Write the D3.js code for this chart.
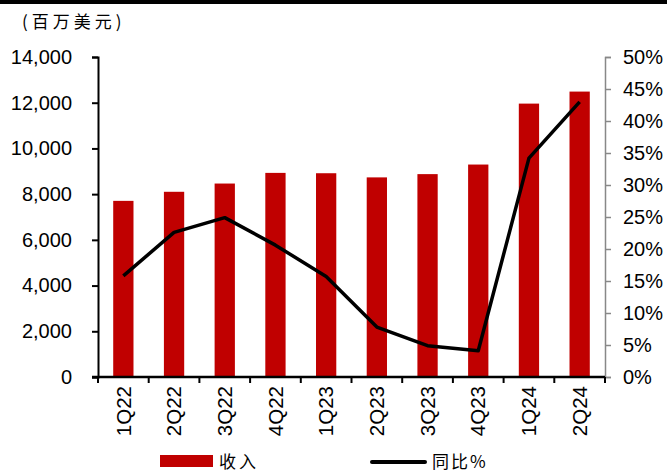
<!DOCTYPE html>
<html>
<head>
<meta charset="utf-8">
<script src="https://cdn.jsdelivr.net/npm/d3@7"></script>
<style>
  html, body { margin: 0; padding: 0; background: #fff; }
  svg { display: block; }
  text { font-family: Arial, "Liberation Sans", sans-serif; fill: #000; }
  .cjk { font-family: "Noto Sans CJK SC", sans-serif; }
</style>
</head>
<body>
<svg id="chart" width="667" height="475"></svg>
<script>
// Quarterly revenue (USD millions) and year-over-year growth (%)
const quarters = ["1Q22", "2Q22", "3Q22", "4Q22", "1Q23", "2Q23", "3Q23", "4Q23", "1Q24", "2Q24"];
const revenue = [7706, 8103, 8464, 8930, 8915, 8733, 8876, 9295, 11961, 12487];
const yoyPct = [15.8, 22.6, 24.9, 20.6, 15.7, 7.8, 4.9, 4.1, 34.2, 43.0];
const leftTicks = [0, 2000, 4000, 6000, 8000, 10000, 12000, 14000];
const rightTicks = [0, 5, 10, 15, 20, 25, 30, 35, 40, 45, 50];

const W = 667, H = 475;
const plot = { left: 98, right: 605, top: 57, bottom: 377 };
const RED = "#C00000";

const svg = d3.select("#chart");

// top rule
svg.append("rect").attr("x", 0).attr("y", 0).attr("width", W).attr("height", 4).attr("fill", "#000");

// unit label
svg.append("text").attr("class", "cjk")
  .attr("x", 22).attr("y", 28)
  .attr("font-size", 17).attr("letter-spacing", 4)
  .text("(百万美元)");

const x = d3.scaleBand().domain(quarters)
  .range([plot.left, plot.right]).paddingInner(0.6).paddingOuter(0.3);
const xEdge = d3.scaleBand().domain(quarters).range([plot.left, plot.right]).padding(0);
const yL = d3.scaleLinear().domain([0, 14000]).range([plot.bottom, plot.top]);
const yR = d3.scaleLinear().domain([0, 50]).range([plot.bottom, plot.top]);

// bars
svg.append("g").selectAll("rect").data(quarters).join("rect")
  .attr("x", d => x(d))
  .attr("width", x.bandwidth())
  .attr("y", (d, i) => yL(revenue[i]))
  .attr("height", (d, i) => yL(0) - yL(revenue[i]))
  .attr("fill", RED);

// left axis
const gL = svg.append("g").attr("transform", `translate(${plot.left},0)`)
  .call(d3.axisLeft(yL).tickValues(leftTicks).tickSize(6).tickPadding(20)
    .tickFormat(d3.format(",")));
gL.select(".domain").attr("stroke", "#000").attr("stroke-width", 2);
gL.selectAll(".tick line").attr("stroke", "#000").attr("stroke-width", 2);
gL.selectAll(".tick text").attr("font-size", 20).attr("font-family", "Arial, 'Liberation Sans', sans-serif");

// right axis
const gR = svg.append("g").attr("transform", `translate(${plot.right},0)`)
  .call(d3.axisRight(yR).tickValues(rightTicks).tickSize(6).tickPadding(12)
    .tickFormat(d => d + "%"));
gR.select(".domain").attr("stroke", "#888").attr("stroke-width", 1.5);
gR.selectAll(".tick line").attr("stroke", "#888").attr("stroke-width", 1.5);
gR.selectAll(".tick text").attr("font-size", 20).attr("font-family", "Arial, 'Liberation Sans', sans-serif");

// x axis baseline with ticks at category boundaries
const gX = svg.append("g");
gX.append("line")
  .attr("x1", plot.left - 6).attr("x2", plot.right)
  .attr("y1", plot.bottom).attr("y2", plot.bottom)
  .attr("stroke", "#000").attr("stroke-width", 2.5);
const edges = quarters.map(q => xEdge(q)).concat([xEdge(quarters[quarters.length - 1]) + xEdge.bandwidth()]);
gX.selectAll("line.edge").data(edges).join("line").attr("class", "edge")
  .attr("x1", d => d).attr("x2", d => d)
  .attr("y1", plot.bottom).attr("y2", plot.bottom + 6)
  .attr("stroke", "#000").attr("stroke-width", 2);
gX.selectAll("text").data(quarters).join("text")
  .attr("transform", d => `translate(${x(d) + x.bandwidth() / 2},${plot.bottom + 9}) rotate(-90)`)
  .attr("text-anchor", "end").attr("dy", "0.35em")
  .attr("font-size", 20.5)
  .text(d => d);

// YoY line
const line = d3.line()
  .x((d, i) => x(quarters[i]) + x.bandwidth() / 2)
  .y(d => yR(d));
svg.append("path").datum(yoyPct)
  .attr("d", line)
  .attr("fill", "none").attr("stroke", "#000").attr("stroke-width", 3.5)
  .attr("stroke-linejoin", "round");

// legend
const lg = svg.append("g");
lg.append("rect").attr("x", 160).attr("y", 455).attr("width", 53).attr("height", 12).attr("fill", RED);
lg.append("text").attr("class", "cjk").attr("x", 219).attr("y", 468)
  .attr("font-size", 17).attr("letter-spacing", 3).text("收入");
lg.append("line").attr("x1", 372).attr("x2", 425).attr("y1", 462).attr("y2", 462)
  .attr("stroke", "#000").attr("stroke-width", 4).attr("stroke-linecap", "round");
lg.append("text").attr("class", "cjk").attr("x", 432).attr("y", 468)
  .attr("font-size", 17).attr("letter-spacing", 2).text("同比%");
</script>
</body>
</html>
